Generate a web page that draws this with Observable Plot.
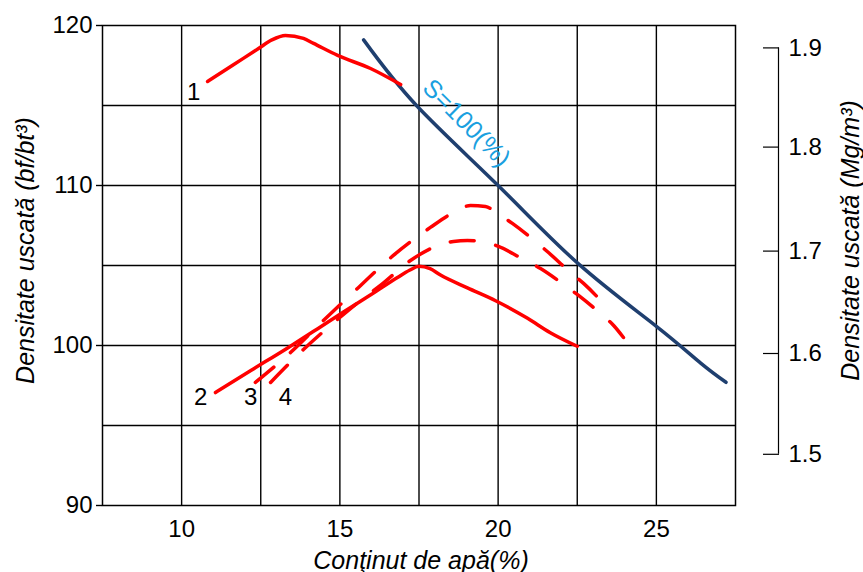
<!DOCTYPE html>
<html>
<head>
<meta charset="utf-8">
<script src="https://cdn.jsdelivr.net/npm/d3@7"></script>
<script src="https://cdn.jsdelivr.net/npm/@observablehq/plot@0.6"></script>
<style>
  html, body { margin: 0; padding: 0; background: #fff; }
  #chart { width: 863px; height: 572px; }
</style>
</head>
<body>
<div id="chart"></div>
<script>
// Axis setup
const xDomain = [7.5, 27.5];
const yDomain = [90, 120];
const xTicks = [10, 15, 20, 25];
const yTicks = [90, 100, 110, 120];
const gridX = [10, 12.5, 15, 17.5, 20, 22.5, 25];
const gridY = [95, 100, 105, 110, 115];

// Right axis (Mg/m3) labels and their positions on the lbf/ft3 scale
const rightTickLabels = ["1.9", "1.8", "1.7", "1.6", "1.5"];
const rightTickPcf = [118.6, 112.4, 105.9, 99.5, 93.2];

// Curve 1 (solid)
const w1 = [10.82, 11.6, 12.43, 12.85, 13.28, 13.85, 14.17, 14.93, 15.97, 16.92];
const d1 = [116.5, 117.5, 118.56, 119.1, 119.38, 119.19, 118.88, 118.13, 117.31, 116.31];

// Curve 2 (solid)
const w2 = [11.07, 12.2, 13.35, 14.3, 15.2, 16.0, 16.82, 17.2, 17.5, 17.85, 18.18, 19.03, 19.92, 20.93, 21.65, 22.5];
const d2 = [97.06, 98.45, 99.85, 101.05, 102.2, 103.2, 104.25, 104.7, 104.95, 104.8, 104.4, 103.6, 102.8, 101.7, 100.8, 99.95];

// Curve 3 (dashed, upper)
const w3 = [12.33, 13.44, 14.48, 15.59, 16.69, 17.33, 17.86, 18.59, 19.13, 19.6, 19.98, 20.45, 21.18, 21.59, 22.29, 22.7, 23.33];
const d3 = [97.69, 99.56, 101.56, 103.63, 105.63, 106.63, 107.38, 108.31, 108.75, 108.69, 108.25, 107.63, 106.5, 105.81, 104.56, 103.88, 102.63];

// Curve 4 (dashed, lower)
const w4 = [12.81, 13.85, 14.96, 15.65, 16.28, 17.23, 18.02, 18.59, 19.03, 19.51, 20.01, 20.8, 21.34, 22.07, 22.54, 23.23, 23.65, 23.96];
const d4 = [97.69, 99.75, 101.69, 102.81, 103.75, 105.31, 106.19, 106.5, 106.56, 106.5, 106.19, 105.38, 104.81, 103.81, 103.13, 102.0, 101.25, 100.5];

// Saturation line S = 100%
const wS = [15.75, 17.42, 20.0, 22.54, 25.0, 26.4, 27.2];
const dS = [119.1, 115.0, 110.0, 105.1, 101.2, 98.9, 97.7];

// Curve labels
const curveLabels = ["1", "2", "3", "4"];
const curveLabelW = [10.38, 10.6, 12.18, 13.28];
const curveLabelD = [115.85, 96.75, 96.75, 96.75];

// Saturation label
const satLabel = "S=100(%)";
const satLabelW = 19.0;
const satLabelD = 113.9;

const xTitle = "Conţinut de apă(%)";
const yTitle = "Densitate uscată (bf/bt³)";
const y2Title = "Densitate uscată (Mg/m³)";

const toRows = (ws, ds) => ws.map((w, i) => ({w, d: ds[i]}));

const FONT = "'Liberation Sans', Arial, Helvetica, sans-serif";
const FS = 24;
const TFS = 25;

const plot = Plot.plot({
  width: 863,
  height: 572,
  marginLeft: 102,
  marginRight: 128,
  marginTop: 25,
  marginBottom: 67,
  style: {fontFamily: FONT, fontSize: FS + "px", background: "#fff", color: "#000"},
  x: {domain: xDomain},
  y: {domain: yDomain},
  marks: [
    Plot.ruleX(gridX, {stroke: "#000", strokeWidth: 1.4}),
    Plot.ruleY(gridY, {stroke: "#000", strokeWidth: 1.4}),
    Plot.frame({stroke: "#000", strokeWidth: 1.5}),
    Plot.line(toRows(wS, dS), {x: "w", y: "d", stroke: "#1f3f6f", strokeWidth: 3.5, curve: "natural"}),
    Plot.line(toRows(w1, d1), {x: "w", y: "d", stroke: "#ff0000", strokeWidth: 3.5, curve: "monotone-x"}),
    Plot.line(toRows(w2, d2), {x: "w", y: "d", stroke: "#ff0000", strokeWidth: 3.5, curve: "monotone-x"}),
    Plot.line(toRows(w3, d3), {x: "w", y: "d", stroke: "#ff0000", strokeWidth: 3.5, curve: "monotone-x", strokeDasharray: "24 22", strokeLinecap: "round"}),
    Plot.line(toRows(w4, d4), {x: "w", y: "d", stroke: "#ff0000", strokeWidth: 3.5, curve: "monotone-x", strokeDasharray: "24 22", strokeLinecap: "round"}),
    Plot.text(curveLabels, {x: (d, i) => curveLabelW[i], y: (d, i) => curveLabelD[i], text: d => d, fontSize: FS, fill: "#000"}),
    Plot.text([satLabel], {x: () => satLabelW, y: () => satLabelD, text: d => d, rotate: 45, fontSize: TFS, fill: "#1aa0e0"}),
    Plot.axisX({ticks: xTicks, tickSize: 0, tickPadding: 14, label: null, fontSize: FS}),
    Plot.axisY({ticks: yTicks, tickSize: 6, tickPadding: 4, label: null, fontSize: FS, strokeWidth: 1.4}),
    Plot.axisY({anchor: "right", ticks: rightTickPcf, tickFormat: d => rightTickLabels[rightTickPcf.indexOf(d)], tickSize: 16, tickPadding: 10, dx: 27, label: null, fontSize: FS, strokeWidth: 1.2}),
    Plot.ruleX([xDomain[1]], {y1: rightTickPcf[0], y2: rightTickPcf[rightTickPcf.length - 1], dx: 43, stroke: "#000", strokeWidth: 1.2}),
    Plot.text([xTitle], {frameAnchor: "bottom", text: d => d, textAnchor: "middle", lineAnchor: "middle", dx: 2, dy: 55, fontSize: TFS, fontStyle: "italic", fill: "#000"}),
    Plot.text([yTitle], {frameAnchor: "left", text: d => d, textAnchor: "middle", lineAnchor: "middle", rotate: -90, dx: -77, dy: -15, fontSize: TFS, fontStyle: "italic", fill: "#000"}),
    Plot.text([y2Title], {frameAnchor: "right", text: d => d, textAnchor: "middle", lineAnchor: "middle", rotate: -90, dx: 115, dy: -25, fontSize: TFS, fontStyle: "italic", fill: "#000"})
  ]
});
document.getElementById("chart").appendChild(plot);
</script>
</body>
</html>
